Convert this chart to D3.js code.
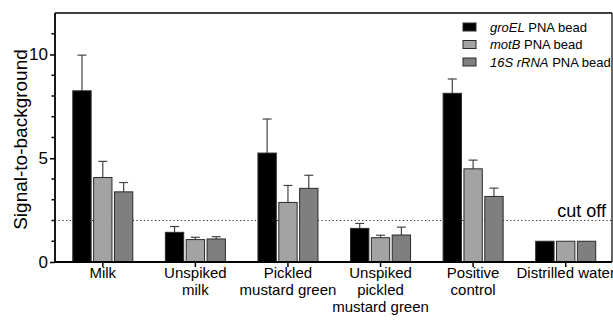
<!DOCTYPE html>
<html>
<head>
<meta charset="utf-8">
<script src="https://cdn.jsdelivr.net/npm/d3@7"></script>
<style>
  body { margin: 0; background: #fff; }
  svg { display: block; font-family: "Liberation Sans", Arial, sans-serif; }
</style>
</head>
<body>
<div id="chart"></div>
<script>
// data
const categories = [
  ["Milk"],
  ["Unspiked", "milk"],
  ["Pickled", "mustard green"],
  ["Unspiked", "pickled", "mustard green"],
  ["Positive", "control"],
  ["Distrilled water"],
];
const seriesNames = ["groEL", "motB", "16S rRNA"];
const groEL = [8.25, 1.43, 5.25, 1.62, 8.13, 1.0];
const groELErr = [1.72, 0.28, 1.64, 0.24, 0.69, 0];
const motB = [4.07, 1.08, 2.87, 1.17, 4.49, 1.0];
const motBErr = [0.78, 0.11, 0.82, 0.12, 0.42, 0];
const rRNA = [3.38, 1.11, 3.55, 1.3, 3.16, 1.0];
const rRNAErr = [0.45, 0.11, 0.63, 0.38, 0.4, 0];
const cutOff = 2;
const yMajor = [0, 5, 10];
const yMinor = [1, 2, 3, 4, 6, 7, 8, 9, 11];

const colors = ["#000000", "#a3a3a3", "#7f7f7f"];
const values = [groEL, motB, rRNA];
const errors = [groELErr, motBErr, rRNAErr];

const width = 613, height = 320;
const plotL = 55, plotR = 612, plotT = 13, plotB = 262;

const svg = d3.select("#chart").append("svg")
  .attr("width", width).attr("height", height);

const x = d3.scaleBand().domain(d3.range(categories.length)).range([56.5, 612]).padding(0);
const inner = d3.scaleBand().domain(d3.range(3)).range([-30, 30]).paddingInner(0.12);
const y = d3.scaleLinear().domain([0, 12]).range([plotB, plotT]);

// cut off line
svg.append("line")
  .attr("x1", plotL).attr("x2", plotR)
  .attr("y1", y(cutOff)).attr("y2", y(cutOff))
  .attr("stroke", "#333").attr("stroke-width", 1.2)
  .attr("stroke-dasharray", "1.3,2.4");

svg.append("text")
  .attr("x", 606).attr("y", y(cutOff) - 4)
  .attr("text-anchor", "end")
  .style("font-size", "18px")
  .text("cut off");

// bars
const rows = [];
categories.forEach((c, i) => {
  values.forEach((s, j) => {
    rows.push({ i, j, v: s[i], e: errors[j][i] });
  });
});

const g = svg.append("g");
const bx = (d) => x(d.i) + x.bandwidth() / 2 + inner(d.j);

// error bars (drawn first so the bar covers the lower half)
const err = g.selectAll("g.err").data(rows.filter((d) => d.e > 0)).join("g").attr("class", "err");
err.append("line")
  .attr("x1", (d) => bx(d) + inner.bandwidth() / 2)
  .attr("x2", (d) => bx(d) + inner.bandwidth() / 2)
  .attr("y1", (d) => y(d.v)).attr("y2", (d) => y(d.v + d.e))
  .attr("stroke", "#444").attr("stroke-width", 1.2);
err.append("line")
  .attr("x1", (d) => bx(d) + inner.bandwidth() / 2 - 4.5)
  .attr("x2", (d) => bx(d) + inner.bandwidth() / 2 + 4.5)
  .attr("y1", (d) => y(d.v + d.e)).attr("y2", (d) => y(d.v + d.e))
  .attr("stroke", "#444").attr("stroke-width", 1.2);

g.selectAll("rect.bar").data(rows).join("rect")
  .attr("class", "bar")
  .attr("x", bx)
  .attr("width", inner.bandwidth())
  .attr("y", (d) => y(d.v))
  .attr("height", (d) => y(0) - y(d.v))
  .attr("fill", (d) => colors[d.j])
  .attr("stroke", "#2a2a2a").attr("stroke-width", 1);

// frame (top and right)
svg.append("line").attr("x1", plotL).attr("x2", plotR).attr("y1", plotT).attr("y2", plotT)
  .attr("stroke", "#000").attr("stroke-width", 1.5);
svg.append("line").attr("x1", plotR).attr("x2", plotR).attr("y1", plotT).attr("y2", plotB)
  .attr("stroke", "#000").attr("stroke-width", 1.2);

// y axis
const yAxis = svg.append("g").attr("transform", `translate(${plotL},0)`)
  .call(d3.axisLeft(y).tickValues(yMajor).tickSize(5).tickSizeOuter(0).tickPadding(2));
yAxis.append("g").selectAll("line").data(yMinor).join("line")
  .attr("x1", -3.5).attr("x2", 0)
  .attr("y1", (d) => y(d)).attr("y2", (d) => y(d))
  .attr("stroke", "#000").attr("stroke-width", 1.5);
yAxis.select(".domain").attr("d", `M0,${plotT}V${plotB}`).attr("stroke-width", 1.8);
yAxis.selectAll(".tick line").attr("stroke-width", 1.5);
yAxis.selectAll("text").style("font-size", "17px").style("font-family", "Liberation Sans, Arial, sans-serif").attr("fill", "#000");

// x axis
const xAxis = svg.append("g").attr("transform", `translate(0,${plotB})`)
  .call(d3.axisBottom(x).tickSize(5).tickSizeOuter(0).tickFormat(""));
xAxis.select(".domain").attr("d", `M${plotL},0H${plotR}`).attr("stroke-width", 1.8);
xAxis.selectAll(".tick line").attr("stroke-width", 1.5);
xAxis.selectAll(".tick").each(function (d) {
  const t = d3.select(this).append("text")
    .attr("fill", "#000")
    .attr("text-anchor", "middle")
    .style("font-size", "15px")
    .style("font-family", "Liberation Sans, Arial, sans-serif");
  categories[d].forEach((line, k) => {
    t.append("tspan").attr("x", 0).attr("y", 16 + k * 17).text(line);
  });
});

// y axis title
svg.append("text")
  .attr("transform", `translate(27,${(plotT + plotB) / 2 + 2}) rotate(-90)`)
  .attr("text-anchor", "middle")
  .style("font-size", "19px")
  .text("Signal-to-background");

// legend
const legend = svg.append("g").attr("transform", "translate(463,27)");
const li = legend.selectAll("g").data(seriesNames).join("g")
  .attr("transform", (d, i) => `translate(0,${i * 17.5})`);
li.append("rect")
  .attr("x", 0).attr("y", -4).attr("width", 13).attr("height", 8)
  .attr("fill", (d, i) => colors[i]).attr("stroke", "#2a2a2a").attr("stroke-width", 1);
const lt = li.append("text").attr("x", 27).attr("y", 4.5).style("font-size", "13px");
lt.append("tspan").style("font-style", "italic").text((d) => d);
lt.append("tspan").text(" PNA bead");
</script>
</body>
</html>
